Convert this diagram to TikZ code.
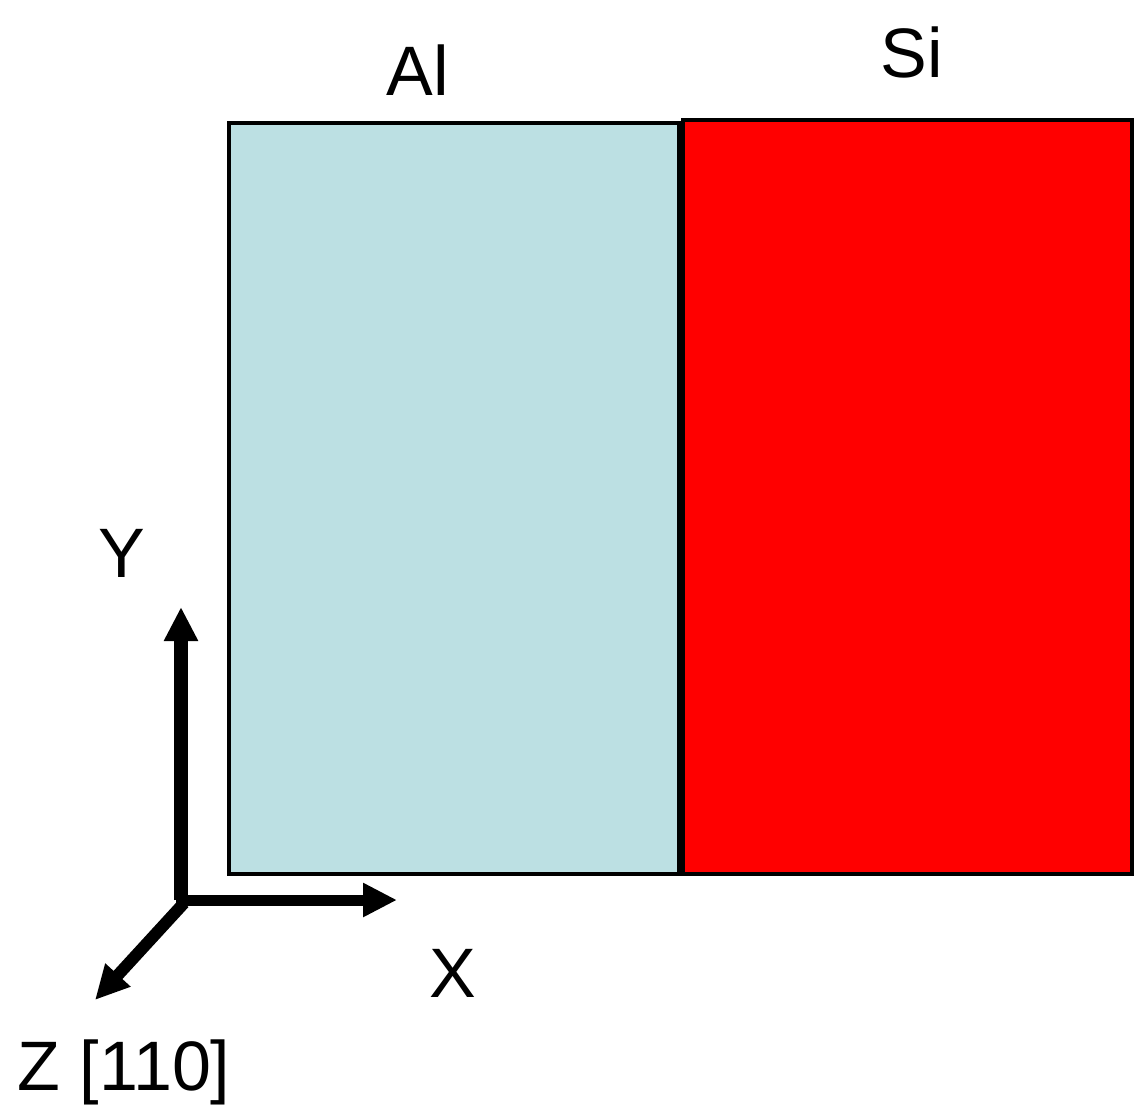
\documentclass[tikz,border=0pt]{standalone}
\usepackage{fontspec}
\setmainfont{Liberation Sans}
\usetikzlibrary{arrows.meta,positioning}
\definecolor{AlBlue}{HTML}{BCE0E3}
\definecolor{SiRed}{HTML}{FF0000}

\begin{document}
\begin{tikzpicture}[
x=1pt,y=-1pt,
slab/.style={draw=black,line width=4pt,inner sep=0pt,outer sep=0pt,anchor=north west},
lbl/.style={font=\fontsize{70}{84}\selectfont,inner sep=0pt},
axis/.style={line width=#1,-{Triangle[length=34pt,width=32pt]}}
]
\useasboundingbox (0,0) rectangle (1134,1111);
% slabs
\node[slab,fill=AlBlue,minimum width=450pt,minimum height=751pt] (al) at (229,123) {};
\node[slab,fill=SiRed,minimum width=449pt,minimum height=754pt] (si) at (683,120) {};
\node[lbl] (allbl) at (418,70) {Al};
\node[lbl] (silbl) at (912,52) {Si};
% axes
\coordinate (o) at (181,900);
\coordinate (ytip) at (181,607);
\coordinate (xtip) at (397,900);
\coordinate (ztip) at (95,1000);
\draw[axis=14pt] (o) -- (ytip);
\draw[axis=11pt] ([xshift=-5pt]o) -- (xtip);
\draw[axis=12pt] ([xshift=3pt,yshift=-3pt]o) -- (ztip);
\node[lbl] (ylbl) at (122,553) {Y};
\node[lbl] (xlbl) at (453,973) {X};
\node[lbl] (zlbl) at (124,1072) {Z [110]};
\end{tikzpicture}
\end{document}
